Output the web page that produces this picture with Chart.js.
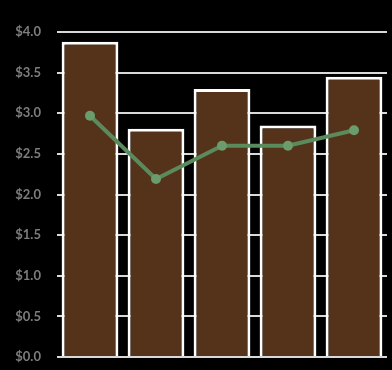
<!DOCTYPE html>
<html>
<head>
<meta charset="utf-8">
<script src="https://cdn.jsdelivr.net/npm/chart.js@4"></script>
<style>
  html, body { margin: 0; padding: 0; background: #000; overflow: hidden; }
  canvas { display: block; }
</style>
</head>
<body>
<canvas id="chart" width="392" height="370"></canvas>
<script>
// data
const categories = ['A', 'B', 'C', 'D', 'E'];
const barValues = [3.88, 2.81, 3.30, 2.85, 3.45];
const lineValues = [2.97, 2.19, 2.60, 2.60, 2.79];
const yTicks = [0, 0.5, 1, 1.5, 2, 2.5, 3, 3.5, 4];

const chart = new Chart(document.getElementById('chart').getContext('2d'), {
    type: 'bar',
    data: {
        labels: categories,
        datasets: [
            {
                type: 'line',
                data: lineValues,
                borderColor: '#5b8a5c',
                backgroundColor: '#6b9c6c',
                borderWidth: 4,
                pointRadius: 5,
                pointBorderWidth: 0,
                tension: 0,
                order: 0
            },
            {
                data: barValues,
                backgroundColor: '#55331b',
                borderColor: '#ffffff',
                borderWidth: 3,
                borderSkipped: 'bottom',
                categoryPercentage: 1,
                barPercentage: 0.86,
                order: 1
            }
        ]
    },
    options: {
        responsive: false,
        animation: false,
        layout: { padding: { top: 32, bottom: 13, right: 0, left: 0 } },
        plugins: { legend: { display: false }, tooltip: { enabled: false } },
        scales: {
            x: {
                grid: { display: false, drawTicks: false },
                border: { display: false },
                ticks: { display: false },
                afterFit: function(scale) {
                    scale.height = 0;
                    scale.paddingTop = scale.paddingBottom = scale.paddingLeft = scale.paddingRight = 0;
                }
            },
            y: {
                min: 0,
                max: 4,
                afterFit: function(scale) {
                    scale.width = 57;
                    scale.paddingTop = scale.paddingBottom = 0;
                },
                afterBuildTicks: function(scale) { scale.ticks = yTicks.map(v => ({ value: v })); },
                border: { display: false },
                grid: { color: '#d9d9d9', lineWidth: 2, drawTicks: false },
                ticks: {
                    padding: 16,
                    color: '#7d7d7d',
                    font: { family: 'Lato', size: 13, weight: 'bold' },
                    callback: v => '$' + v.toFixed(1)
                }
            }
        }
    }
});
</script>
</body>
</html>
